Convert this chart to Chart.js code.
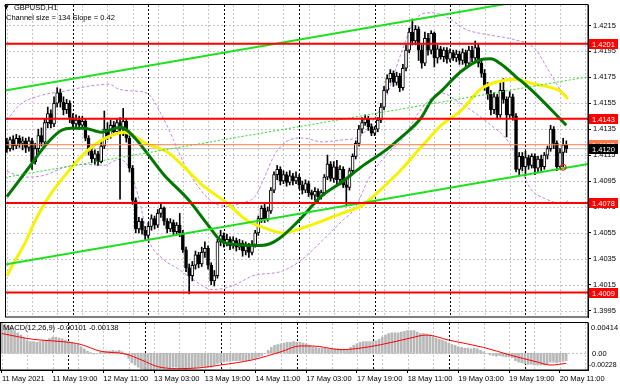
<!DOCTYPE html>
<html><head><meta charset="utf-8">
<script src="https://cdn.jsdelivr.net/npm/chart.js@4/dist/chart.umd.min.js"></script>
<style>
html,body{margin:0;padding:0;background:#fff;width:620px;height:388px;overflow:hidden}
#wrap{position:relative;width:620px;height:388px;background:#fff}
canvas{position:absolute;left:0}
#main{top:0}
#macd{top:322px}
</style></head><body>
<div id="wrap"><canvas id="main" width="620" height="322"></canvas><canvas id="macd" width="620" height="66"></canvas></div>
<script>
// ---------------- DATA ----------------
const symbolTitle = 'GBPUSD,H1';
const channelText = 'Channel size = 134 Slope = 0.42';
const macdText = 'MACD(12,26,9) -0.00101 -0.00138';

const timeTickIdx = [0,16,32,48,64,80,96,112,128,144,160,176];
const timeLabels = ['11 May 2021','11 May 19:00','12 May 11:00','13 May 03:00','13 May 19:00','14 May 11:00','17 May 03:00','17 May 19:00','18 May 11:00','19 May 03:00','19 May 19:00','20 May 11:00'];
const daySeparators = [21,45,69,93,117,141,165];

const priceTicks = [1.3995,1.4015,1.4035,1.4055,1.4075,1.4095,1.4115,1.4135,1.4155,1.4175,1.4195,1.4215];
const redLevels = [1.4201,1.4143,1.4078,1.4009];
const orangeLevel = 1.4123;
const bidPrice = 1.4120;

const opens = [1.4125,1.4120,1.4127,1.4122,1.4128,1.4124,1.4126,1.4121,1.4126,1.4110,
 1.4120,1.4130,1.4125,1.4140,1.4147,1.4139,1.4155,1.4163,1.4156,1.4150,
 1.4155,1.4144,1.4139,1.4142,1.4138,1.4141,1.4128,1.4118,1.4112,1.4116,
 1.4110,1.4122,1.4135,1.4130,1.4138,1.4133,1.4140,1.4135,1.4141,1.4128,
 1.4105,1.4080,1.4058,1.4064,1.4057,1.4053,1.4060,1.4066,1.4061,1.4070,
 1.4074,1.4064,1.4058,1.4063,1.4056,1.4061,1.4055,1.4042,1.4028,1.4022,
 1.4030,1.4038,1.4031,1.4040,1.4043,1.4030,1.4018,1.4022,1.4048,1.4053,
 1.4047,1.4050,1.4045,1.4049,1.4044,1.4047,1.4041,1.4045,1.4040,1.4046,
 1.4055,1.4066,1.4074,1.4066,1.4072,1.4088,1.4100,1.4104,1.4095,1.4100,
 1.4094,1.4099,1.4095,1.4098,1.4092,1.4088,1.4093,1.4086,1.4084,1.4087,
 1.4083,1.4086,1.4098,1.4108,1.4097,1.4106,1.4096,1.4104,1.4092,1.4090,
 1.4103,1.4114,1.4124,1.4135,1.4140,1.4143,1.4137,1.4132,1.4135,1.4142,
 1.4152,1.4165,1.4174,1.4178,1.4171,1.4176,1.4167,1.4182,1.4196,1.4210,
 1.4203,1.4212,1.4196,1.4186,1.4205,1.4196,1.4209,1.4190,1.4197,1.4191,
 1.4196,1.4189,1.4194,1.4190,1.4193,1.4188,1.4194,1.4186,1.4196,1.4190,
 1.4198,1.4186,1.4178,1.4168,1.4162,1.4150,1.4160,1.4146,1.4165,1.4158,
 1.4146,1.4160,1.4145,1.4104,1.4114,1.4106,1.4113,1.4107,1.4114,1.4105,
 1.4112,1.4106,1.4115,1.4120,1.4135,1.4124,1.4106,1.4117,1.4123];
const highs = [1.4128,1.4129,1.4130,1.4131,1.4130,1.4129,1.4128,1.4129,1.4128,1.4124,
 1.4135,1.4136,1.4143,1.4152,1.4150,1.4160,1.4167,1.4166,1.4160,1.4158,
 1.4157,1.4147,1.4146,1.4145,1.4145,1.4143,1.4130,1.4121,1.4119,1.4118,
 1.4125,1.4149,1.4140,1.4142,1.4141,1.4143,1.4144,1.4151,1.4143,1.4130,
 1.4107,1.4082,1.4067,1.4066,1.4060,1.4063,1.4069,1.4068,1.4073,1.4077,
 1.4075,1.4066,1.4066,1.4065,1.4063,1.4070,1.4057,1.4044,1.4031,1.4033,
 1.4041,1.4040,1.4044,1.4048,1.4045,1.4032,1.4026,1.4050,1.4057,1.4055,
 1.4054,1.4052,1.4052,1.4051,1.4050,1.4049,1.4048,1.4047,1.4049,1.4057,
 1.4068,1.4076,1.4077,1.4075,1.4090,1.4102,1.4107,1.4106,1.4103,1.4102,
 1.4103,1.4101,1.4102,1.4100,1.4095,1.4096,1.4095,1.4088,1.4090,1.4089,
 1.4088,1.4100,1.4115,1.4110,1.4110,1.4111,1.4107,1.4106,1.4096,1.4105,
 1.4116,1.4126,1.4138,1.4144,1.4146,1.4145,1.4139,1.4137,1.4144,1.4155,
 1.4168,1.4177,1.4181,1.4180,1.4179,1.4178,1.4185,1.4200,1.4213,1.4220,
 1.4215,1.4214,1.4200,1.4210,1.4209,1.4211,1.4210,1.4200,1.4199,1.4198,
 1.4198,1.4197,1.4196,1.4196,1.4195,1.4197,1.4196,1.4199,1.4199,1.4203,
 1.4201,1.4189,1.4181,1.4171,1.4165,1.4163,1.4162,1.4172,1.4174,1.4160,
 1.4164,1.4162,1.4147,1.4117,1.4117,1.4118,1.4115,1.4116,1.4116,1.4114,
 1.4115,1.4117,1.4122,1.4138,1.4137,1.4126,1.4120,1.4128,1.4126];
const lows = [1.4117,1.4118,1.4119,1.4120,1.4121,1.4119,1.4117,1.4118,1.4104,1.4108,
 1.4117,1.4122,1.4123,1.4136,1.4136,1.4137,1.4152,1.4152,1.4146,1.4147,
 1.4140,1.4136,1.4136,1.4135,1.4136,1.4126,1.4115,1.4109,1.4108,1.4107,
 1.4109,1.4120,1.4127,1.4128,1.4130,1.4131,1.4081,1.4130,1.4125,1.4102,
 1.4077,1.4055,1.4055,1.4054,1.4049,1.4051,1.4057,1.4058,1.4059,1.4067,
 1.4061,1.4055,1.4056,1.4053,1.4054,1.4052,1.4040,1.4025,1.4008,1.4018,
 1.4027,1.4028,1.4029,1.4036,1.4027,1.4015,1.4014,1.4020,1.4045,1.4044,
 1.4045,1.4042,1.4043,1.4041,1.4042,1.4037,1.4038,1.4036,1.4038,1.4044,
 1.4053,1.4063,1.4063,1.4064,1.4070,1.4086,1.4096,1.4092,1.4093,1.4091,
 1.4092,1.4092,1.4093,1.4089,1.4085,1.4086,1.4083,1.4081,1.4080,1.4079,
 1.4081,1.4084,1.4096,1.4095,1.4094,1.4093,1.4092,1.4090,1.4076,1.4088,
 1.4101,1.4112,1.4122,1.4132,1.4138,1.4134,1.4130,1.4130,1.4133,1.4140,
 1.4150,1.4163,1.4171,1.4168,1.4169,1.4164,1.4165,1.4180,1.4194,1.4200,
 1.4200,1.4188,1.4182,1.4184,1.4192,1.4193,1.4183,1.4186,1.4189,1.4187,
 1.4186,1.4187,1.4188,1.4187,1.4185,1.4185,1.4183,1.4184,1.4187,1.4188,
 1.4183,1.4175,1.4165,1.4158,1.4146,1.4147,1.4143,1.4144,1.4155,1.4129,
 1.4144,1.4142,1.4102,1.4100,1.4103,1.4099,1.4104,1.4105,1.4100,1.4102,
 1.4103,1.4104,1.4112,1.4118,1.4120,1.4103,1.4104,1.4106,1.4117];
const closes = [1.4120,1.4127,1.4122,1.4128,1.4124,1.4126,1.4121,1.4126,1.4110,1.4120,
 1.4130,1.4125,1.4140,1.4147,1.4139,1.4155,1.4163,1.4156,1.4150,1.4155,
 1.4144,1.4139,1.4142,1.4138,1.4141,1.4128,1.4118,1.4112,1.4116,1.4110,
 1.4122,1.4135,1.4130,1.4138,1.4133,1.4140,1.4135,1.4141,1.4128,1.4105,
 1.4080,1.4058,1.4064,1.4057,1.4053,1.4060,1.4066,1.4061,1.4070,1.4074,
 1.4064,1.4058,1.4063,1.4056,1.4061,1.4055,1.4042,1.4028,1.4022,1.4030,
 1.4038,1.4031,1.4040,1.4043,1.4030,1.4018,1.4022,1.4048,1.4053,1.4047,
 1.4050,1.4045,1.4049,1.4044,1.4047,1.4041,1.4045,1.4040,1.4046,1.4055,
 1.4066,1.4074,1.4066,1.4072,1.4088,1.4100,1.4104,1.4095,1.4100,1.4094,
 1.4099,1.4095,1.4098,1.4092,1.4088,1.4093,1.4086,1.4084,1.4087,1.4083,
 1.4086,1.4098,1.4108,1.4097,1.4106,1.4096,1.4104,1.4092,1.4090,1.4103,
 1.4114,1.4124,1.4135,1.4140,1.4143,1.4137,1.4132,1.4135,1.4142,1.4152,
 1.4165,1.4174,1.4178,1.4171,1.4176,1.4167,1.4182,1.4196,1.4210,1.4203,
 1.4212,1.4196,1.4186,1.4205,1.4196,1.4209,1.4190,1.4197,1.4191,1.4196,
 1.4189,1.4194,1.4190,1.4193,1.4188,1.4194,1.4186,1.4196,1.4190,1.4198,
 1.4186,1.4178,1.4168,1.4162,1.4150,1.4160,1.4146,1.4165,1.4158,1.4146,
 1.4160,1.4145,1.4104,1.4114,1.4106,1.4113,1.4107,1.4114,1.4105,1.4112,
 1.4106,1.4115,1.4120,1.4135,1.4124,1.4106,1.4117,1.4123,1.4120];

const maGreenIdx = [0,6.6,12.9,17.4,20.5,24.6,30,36.3,38.2,41.3,44.5,49.8,57.7,64,68.1,73.5,79.8,83,87,92.4,100.3,106.6,113,120.8,125.6,131.9,135,138.2,144.5,150.8,154,157,161.8,166.6,172.9,178];
const maGreenVal = [1.40829,1.41041,1.41244,1.41342,1.41358,1.41358,1.41327,1.41365,1.41342,1.41267,1.41169,1.41003,1.40807,1.40610,1.40490,1.40460,1.40453,1.40460,1.40512,1.40633,1.40837,1.40942,1.41063,1.41192,1.41290,1.41440,1.41569,1.41644,1.41795,1.41886,1.41893,1.41856,1.41758,1.41659,1.41508,1.41380];
const maYellowIdx = [0,2.5,5.7,8.8,12,15.1,18.3,24.6,30.9,37.2,44.5,51.4,56.2,62.5,69.4,76.7,82,87.7,94,100.3,106.6,113,119.2,125.6,131.9,138.2,144.5,150.8,157,161.8,166.6,171.3,176,178.5];
const maYellowVal = [1.40218,1.40331,1.40467,1.40633,1.40776,1.40890,1.40988,1.41161,1.41275,1.41327,1.41237,1.41169,1.41063,1.40912,1.40792,1.40641,1.40588,1.40550,1.40588,1.40641,1.40701,1.40761,1.40890,1.41041,1.41214,1.41380,1.41493,1.41660,1.41720,1.41735,1.41705,1.41682,1.41644,1.41584];
const bbUpperIdx = [0,4.1,10.4,18.3,26.2,32.5,35.6,40.4,44.5,49.8,53,56.2,60.9,65.6,70.3,75,78.9,82,85.2,89.9,94,100.3,106.6,112,116.1,120.2,125.6,129.7,135,139.7,146,153.9,160.9,168.1,172.2,176,178.2];
const bbUpperVal = [1.41418,1.41539,1.41607,1.41644,1.41682,1.41697,1.41659,1.41644,1.41629,1.41433,1.41267,1.41093,1.40905,1.40784,1.40754,1.40784,1.40829,1.40980,1.41154,1.41267,1.41282,1.41252,1.41267,1.41290,1.41403,1.41569,1.41946,1.42188,1.42248,1.42218,1.42120,1.42075,1.42044,1.41969,1.41810,1.41659,1.41607];
const bbLowerIdx = [0,5.7,12,18.3,24.6,30.9,35.6,38.8,42,45.1,49.8,54.6,59.3,65.6,71.9,78.2,87.7,94,100.3,106.6,110.7,115.1,120.8,125.6,131.9,138.2,144.5,153.3,160.2,164,166.6,171.3,176.7,178.5];
const bbLowerVal = [1.41025,1.40980,1.40995,1.41056,1.41078,1.41071,1.41116,1.41056,1.40814,1.40497,1.40346,1.40271,1.40188,1.40112,1.40142,1.40218,1.40256,1.40346,1.40490,1.40641,1.40739,1.40965,1.41154,1.41267,1.41508,1.41629,1.41546,1.41395,1.41229,1.41018,1.40890,1.40814,1.40776,1.40799];

const channelIdx = [-0.6, 184.9];
const channelUpper = [1.41649, 1.42426];
const channelMid = [1.40978, 1.41754];
const channelLower = [1.40306, 1.41082];
const markerIdx = [177];
const markerVal = [1.41056];

const macdMain = [0.00414,0.0040,0.0038,0.0035,0.0031,0.0028,0.0025,0.0021,0.0017,0.0016,
 0.0016,0.0015,0.0016,0.0018,0.0018,0.0020,0.0022,0.0022,0.0021,0.0020,
 0.0018,0.0016,0.0015,0.0013,0.0012,0.0009,0.0006,0.0003,0.0001,-0.0001,
 0.0000,0.0002,0.0002,0.0003,0.0003,0.0004,0.0003,0.0004,0.0002,-0.0002,
 -0.0007,-0.0013,-0.0016,-0.0019,-0.0021,-0.0022,-0.00225,-0.00228,-0.0022,-0.0021,
 -0.0021,-0.0021,-0.0020,-0.0020,-0.0019,-0.0019,-0.0020,-0.0021,-0.0022,-0.0021,
 -0.0020,-0.0020,-0.0019,-0.0018,-0.0018,-0.0019,-0.0019,-0.0016,-0.0014,-0.0013,
 -0.0012,-0.0011,-0.0011,-0.0010,-0.0010,-0.0010,-0.0010,-0.0010,-0.0009,-0.0008,
 -0.0007,-0.0005,-0.0003,0.0000,0.0004,0.0008,0.0011,0.0012,0.0013,0.0014,
 0.0015,0.0015,0.0016,0.0015,0.0015,0.0014,0.0013,0.0011,0.0009,0.0008,
 0.0007,0.0007,0.0007,0.0006,0.0006,0.0006,0.0006,0.0005,0.0004,0.0005,
 0.0008,0.0011,0.0013,0.0015,0.0016,0.0016,0.0016,0.0016,0.0017,0.0019,
 0.0022,0.0025,0.0027,0.0028,0.0028,0.0028,0.0029,0.0030,0.0031,0.0031,
 0.0031,0.0029,0.0027,0.0027,0.0026,0.0025,0.0023,0.0021,0.0019,0.0018,
 0.0016,0.0014,0.0012,0.0011,0.0009,0.0008,0.0007,0.0007,0.0006,0.0007,
 0.0006,0.0004,0.0002,0.0000,-0.0002,-0.0003,-0.0004,-0.0003,-0.0004,-0.0005,
 -0.0005,-0.0006,-0.0010,-0.0012,-0.0013,-0.0014,-0.0015,-0.0015,-0.0016,-0.0016,
 -0.0016,-0.0016,-0.0015,-0.0012,-0.0012,-0.0013,-0.0012,-0.0011,-0.00101];
const signalIdx = [0,10,16,22,25,31,39,44,49,55,62,69,79,88,94,98,107,116,123,129,134,141,152,160,169,173,178];
const signalVal = [0.0027,0.0019,0.0017,0.00145,0.0012,0.0003,-0.0001,-0.0009,-0.0018,-0.0021,-0.0020,-0.0016,-0.0009,0.0002,0.0010,0.0010,0.0005,0.0009,0.0015,0.0021,0.0025,0.0018,0.0008,-0.0002,-0.0012,-0.0016,-0.00138];
const macdMax = 0.00414, macdMin = -0.00228;

// ---------------- HELPERS ----------------
const FAMILY = '"Liberation Sans", Arial, sans-serif';
const FS = 7.5;
const X_MIN = -0.6, X_MAX = 184.9;
const pts = (xs, ys) => xs.map((x, k) => ({x: x, y: ys[k]}));
const hline = v => [{x: X_MIN, y: v}, {x: X_MAX, y: v}];
const lineDs = (data, color, width, order, extra) => Object.assign({
  type: 'line', data: data, borderColor: color, borderWidth: width, pointRadius: 0,
  fill: false, order: order, clip: 0, cubicInterpolationMode: 'monotone'
}, extra || {});

function drawVGrid(ctx, a, x) {
  ctx.lineWidth = 1;
  ctx.setLineDash([2, 2]);
  ctx.strokeStyle = '#c6c6c6';
  for (let i = 0; i <= 184; i += 8) {
    const px = Math.round(x.getPixelForValue(i)) + 0.5;
    ctx.beginPath(); ctx.moveTo(px, a.top); ctx.lineTo(px, a.bottom); ctx.stroke();
  }
  ctx.strokeStyle = '#000';
  daySeparators.forEach(i => {
    const px = Math.round(x.getPixelForValue(i)) + 0.5;
    ctx.beginPath(); ctx.moveTo(px, a.top); ctx.lineTo(px, a.bottom); ctx.stroke();
  });
  ctx.setLineDash([]);
}
function frame(ctx, a) {
  ctx.save();
  ctx.strokeStyle = '#000'; ctx.lineWidth = 1; ctx.setLineDash([]);
  ctx.strokeRect(Math.round(a.left) + 0.5, Math.round(a.top) - 0.5, Math.round(a.right - a.left) - 0.5, Math.round(a.bottom - a.top) + 0.5);
  ctx.restore();
}
function priceBox(ctx, py, text, bg, fg) {
  const cy = Math.round(py);
  ctx.fillStyle = bg;
  ctx.fillRect(589, cy - 5, 29, 10);
  ctx.fillStyle = fg;
  ctx.font = FS + 'px ' + FAMILY;
  ctx.textAlign = 'left'; ctx.textBaseline = 'middle';
  ctx.fillText(text, 592, cy + 0.5);
}

// ---------------- MAIN CHART ----------------
const mainDeco = {
  id: 'mainDeco',
  beforeDatasetsDraw(chart) {
    const {ctx, chartArea: a, scales: {x, y}} = chart;
    ctx.save();
    ctx.beginPath(); ctx.rect(a.left, a.top, a.right - a.left, a.bottom - a.top); ctx.clip();
    ctx.lineWidth = 1; ctx.setLineDash([2, 2]); ctx.strokeStyle = '#c6c6c6';
    priceTicks.forEach(v => {
      const py = Math.round(y.getPixelForValue(v)) + 0.5;
      ctx.beginPath(); ctx.moveTo(a.left, py); ctx.lineTo(a.right, py); ctx.stroke();
    });
    drawVGrid(ctx, a, x);
    ctx.restore();
  },
  afterDraw(chart) {
    const {ctx, chartArea: a, scales: {y}} = chart;
    frame(ctx, a);
    ctx.save();
    redLevels.forEach(v => priceBox(ctx, y.getPixelForValue(v), v.toFixed(4), '#ff0000', '#ffffff'));
    priceBox(ctx, y.getPixelForValue(orangeLevel), orangeLevel.toFixed(4), '#ff7a4a', '#ffffff');
    priceBox(ctx, y.getPixelForValue(bidPrice), bidPrice.toFixed(4), '#000000', '#ffffff');
    ctx.fillStyle = '#000';
    ctx.textAlign = 'left'; ctx.textBaseline = 'middle';
    ctx.font = '6px "DejaVu Sans", sans-serif';
    ctx.fillText('\u25BC', 4, 7);
    ctx.font = FS + 'px ' + FAMILY;
    ctx.fillText(symbolTitle, 14, 7.5);
    ctx.fillText(channelText, 6, 17.5);
    ctx.restore();
  }
};

const bodyColor = c => (closes[c.dataIndex] >= opens[c.dataIndex] ? '#ffffff' : '#000000');

new Chart(document.getElementById('main'), {
  type: 'bar',
  data: {
    datasets: [
      lineDs(hline(bidPrice), '#c0c0c0', 1, 12),
      lineDs(pts(bbUpperIdx, bbUpperVal), '#bb88e0', 1, 11, {borderDash: [3, 2]}),
      lineDs(pts(bbLowerIdx, bbLowerVal), '#bb88e0', 1, 11, {borderDash: [3, 2]}),
      {type: 'bar', data: highs.map((h, i) => ({x: i, y: [lows[i], h]})), backgroundColor: '#000', barThickness: 1, grouped: false, order: 10},
      {type: 'bar', data: opens.map((o, i) => ({x: i, y: [o, closes[i]]})), backgroundColor: bodyColor, borderColor: '#000', borderWidth: 1, borderSkipped: false, barThickness: 3, grouped: false, order: 9},
      lineDs(pts(maYellowIdx, maYellowVal), '#f6f200', 3, 6),
      lineDs(pts(maGreenIdx, maGreenVal), '#007800', 3, 5),
      lineDs(pts(channelIdx, channelMid), '#22dd22', 1, 4, {borderDash: [2, 2]}),
      lineDs(pts(channelIdx, channelUpper), '#1ee01e', 2, 4),
      lineDs(pts(channelIdx, channelLower), '#1ee01e', 2, 4),
      lineDs(hline(orangeLevel), '#ff7a4a', 1, 3),
      ...redLevels.map(v => lineDs(hline(v), '#ff0000', 2, 2)),
      {type: 'line', data: pts(markerIdx, markerVal), showLine: false, pointRadius: 3, pointStyle: 'circle',
       pointBorderColor: '#ff0000', pointBackgroundColor: 'rgba(255,255,255,0)', pointBorderWidth: 1, order: 1, clip: 0}
    ]
  },
  options: {
    responsive: false, animation: false, devicePixelRatio: 1, events: [],
    layout: {padding: {top: 2, bottom: 1, left: 0, right: 0}},
    plugins: {legend: {display: false}, tooltip: {enabled: false}},
    scales: {
      x: {type: 'linear', min: X_MIN, max: X_MAX, offset: false, display: false},
      y: {
        type: 'linear', position: 'right', min: 1.39901, max: 1.42308,
        afterBuildTicks: s => { s.ticks = priceTicks.map(v => ({value: v})); },
        afterFit: s => { s.width = 32; s.paddingTop = 0; s.paddingBottom = 0; },
        ticks: {color: '#000', font: {family: FAMILY, size: FS}, padding: 2, callback: v => Number(v).toFixed(4)},
        grid: {drawOnChartArea: false, drawTicks: true, tickLength: 3, tickColor: '#000', color: '#000'},
        border: {display: true, color: '#000', width: 1}
      }
    }
  },
  plugins: [mainDeco]
});

// ---------------- MACD CHART ----------------
const macdDeco = {
  id: 'macdDeco',
  beforeDatasetsDraw(chart) {
    const {ctx, chartArea: a, scales: {x, y}} = chart;
    ctx.save();
    ctx.beginPath(); ctx.rect(a.left, a.top, a.right - a.left, a.bottom - a.top); ctx.clip();
    drawVGrid(ctx, a, x);
    ctx.setLineDash([2, 2]); ctx.strokeStyle = '#c6c6c6';
    const zy = Math.round(y.getPixelForValue(0)) + 0.5;
    ctx.beginPath(); ctx.moveTo(a.left, zy); ctx.lineTo(a.right, zy); ctx.stroke();
    ctx.restore();
  },
  afterDraw(chart) {
    const {ctx, chartArea: a, scales: {y}} = chart;
    frame(ctx, a);
    ctx.save();
    ctx.fillStyle = '#000';
    ctx.font = FS + 'px ' + FAMILY;
    ctx.textAlign = 'left'; ctx.textBaseline = 'middle';
    ctx.fillText(macdText, 3, a.top + 4.5);
    ctx.fillText(macdMax.toFixed(5), 591, y.getPixelForValue(macdMax) + 5);
    ctx.fillText('0.00', 592, y.getPixelForValue(0) + 0.5);
    ctx.font = '7px ' + FAMILY;
    ctx.fillText(macdMin.toFixed(5), 589, y.getPixelForValue(macdMin) - 5);
    ctx.restore();
  }
};

new Chart(document.getElementById('macd'), {
  type: 'bar',
  data: {
    datasets: [
      {type: 'bar', data: macdMain.map((v, i) => ({x: i, y: v})), backgroundColor: '#b8b8b8', barThickness: 2, grouped: false, order: 3},
      lineDs(pts(signalIdx, signalVal), '#ff0000', 1, 1)
    ]
  },
  options: {
    responsive: false, animation: false, devicePixelRatio: 1, events: [],
    layout: {padding: {top: 1, bottom: 0, left: 0, right: 0}},
    plugins: {legend: {display: false}, tooltip: {enabled: false}},
    scales: {
      x: {
        type: 'linear', min: X_MIN, max: X_MAX, offset: false, position: 'bottom',
        afterBuildTicks: s => { s.ticks = timeTickIdx.map(v => ({value: v})); },
        afterFit: s => { s.height = 18; s.paddingLeft = 0; s.paddingRight = 0; },
        ticks: {autoSkip: false, maxRotation: 0, minRotation: 0, align: 'start', color: '#000', padding: 1,
                font: {family: FAMILY, size: FS}, callback: (v, k) => timeLabels[k]},
        grid: {drawOnChartArea: false, drawTicks: true, tickLength: 3, tickColor: '#000', color: '#000', offset: false},
        border: {display: true, color: '#000'}
      },
      y: {
        type: 'linear', position: 'right', min: macdMin, max: macdMax,
        afterFit: s => { s.width = 32; s.paddingTop = 0; s.paddingBottom = 0; },
        ticks: {display: false},
        grid: {display: false},
        border: {display: true, color: '#000'}
      }
    }
  },
  plugins: [macdDeco]
});
</script></body></html>
